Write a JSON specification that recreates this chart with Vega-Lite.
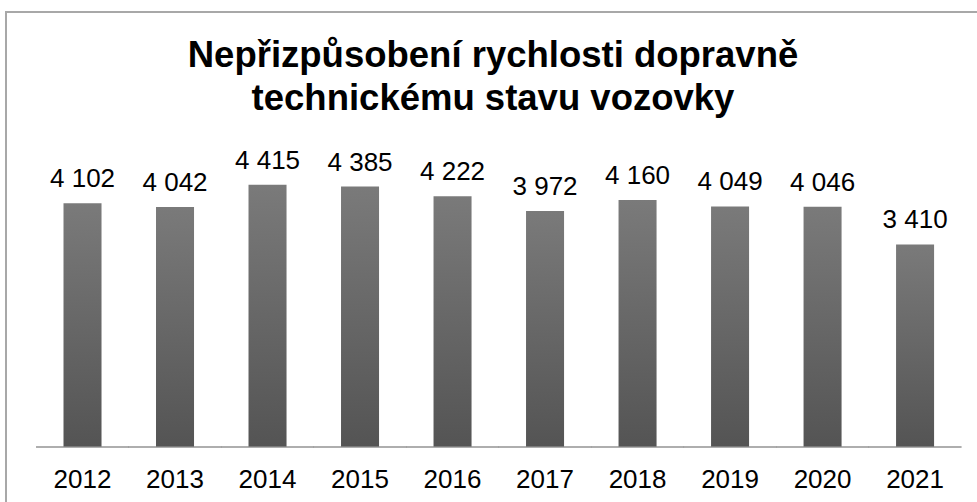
{
  "$schema": "https://vega.github.io/schema/vega-lite/v6.json",
  "width": 974,
  "height": 494,
  "autosize": {"type": "none"},
  "padding": {"left": 6, "top": 12, "right": 0, "bottom": 0},
  "background": "white",
  "config": {
    "view": {"stroke": "#a8a8a8", "strokeWidth": 2},
    "font": "Liberation Sans",
    "locale": {"number": {"decimal": ",", "thousands": " ", "grouping": [3], "currency": ["", " Kč"]}}
  },
  "title": {
    "text": ["Nepřizpůsobení rychlosti dopravně", "technickému stavu vozovky"],
    "font": "Liberation Sans",
    "fontSize": 36.5,
    "fontWeight": "bold",
    "color": "#000000",
    "anchor": "middle",
    "lineHeight": 43,
    "offset": -105
  },
  "data": {
    "values": [
      {"rok": "2012", "pocet": 4102},
      {"rok": "2013", "pocet": 4042},
      {"rok": "2014", "pocet": 4415},
      {"rok": "2015", "pocet": 4385},
      {"rok": "2016", "pocet": 4222},
      {"rok": "2017", "pocet": 3972},
      {"rok": "2018", "pocet": 4160},
      {"rok": "2019", "pocet": 4049},
      {"rok": "2020", "pocet": 4046},
      {"rok": "2021", "pocet": 3410}
    ]
  },
  "encoding": {
    "x": {
      "field": "rok",
      "type": "nominal",
      "scale": {"paddingInner": 0.589, "paddingOuter": 0.559, "align": 0.556},
      "axis": {
        "title": null,
        "domain": false,
        "ticks": false,
        "grid": false,
        "labelAngle": 0,
        "labelFont": "Liberation Sans",
        "labelFontSize": 26,
        "labelColor": "#000000",
        "labelPadding": 19,
        "offset": -59
      }
    }
  },
  "layer": [
    {
      "mark": {
        "type": "bar",
        "color": {
          "gradient": "linear",
          "x1": 0, "y1": 0, "x2": 0, "y2": 1,
          "stops": [
            {"offset": 0, "color": "#7a7a7a"},
            {"offset": 1, "color": "#545454"}
          ]
        }
      },
      "encoding": {
        "y": {
          "field": "pocet",
          "type": "quantitative",
          "scale": {"domain": [-993, 7323], "nice": false, "zero": false},
          "axis": null
        },
        "y2": {"datum": 0}
      }
    },
    {
      "mark": {"type": "tick", "color": "#8c8c8c", "thickness": 2, "size": 93},
      "encoding": {
        "y": {"datum": 0, "type": "quantitative", "scale": {"domain": [-993, 7323], "nice": false, "zero": false}}
      }
    },
    {
      "mark": {"type": "text", "fontSize": 26, "font": "Liberation Sans", "color": "#000000", "baseline": "alphabetic", "dy": -16},
      "encoding": {
        "y": {"field": "pocet", "type": "quantitative", "scale": {"domain": [-993, 7323], "nice": false, "zero": false}},
        "text": {"field": "pocet", "type": "quantitative", "format": ",d"}
      }
    }
  ]
}
